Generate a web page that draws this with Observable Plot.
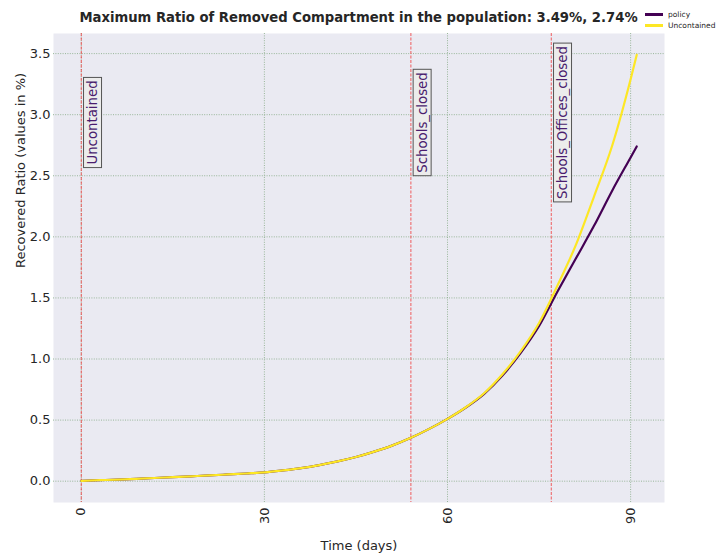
<!DOCTYPE html>
<html>
<head>
<meta charset="utf-8">
<script src="https://cdn.jsdelivr.net/npm/d3@7"></script>
<script src="https://cdn.jsdelivr.net/npm/@observablehq/plot@0.6"></script>
<style>
  body { margin: 0; background: #fff; font-family: "DejaVu Sans", sans-serif; }
  #wrap { position: relative; width: 716px; height: 555px; overflow: hidden; }
  #title { position: absolute; left: 53px; width: 611px; top: 10px; text-align: center;
           font-size: 13.2px; font-weight: bold; color: #262626; line-height: 16px; white-space: nowrap; }
  #legend { position: absolute; left: 645px; top: 9px; font-size: 7.5px; color: #262626; }
  .lg { display: flex; align-items: center; height: 11px; white-space: nowrap; }
  .sw { width: 18px; height: 2.2px; margin-right: 5px; }
  #chart { position: absolute; left: 0; top: 30px; }
</style>
</head>
<body>
<div id="wrap">
  <div id="title"></div>
  <div id="legend"></div>
  <div id="chart"></div>
</div>
<script>
const titleText = "Maximum Ratio of Removed Compartment in the population: 3.49%, 2.74%";
const seriesNames = ["policy", "Uncontained"];
const seriesColors = ["#440154", "#fde725"];
const days = [0,3,6,9,12,15,18,21,24,27,30,33,36,39,42,45,48,51,54,57,60,63,66,69,72,75,78,81,84,87,90,91];
const uncontained = [0.003,0.008,0.013,0.019,0.026,0.033,0.040,0.047,0.055,0.063,0.072,0.088,0.107,0.132,0.162,0.198,0.242,0.293,0.355,0.428,0.51,0.605,0.72,0.875,1.065,1.295,1.60,1.93,2.33,2.75,3.29,3.49];
const policy = [0.003,0.008,0.013,0.019,0.026,0.033,0.040,0.047,0.055,0.063,0.072,0.088,0.107,0.132,0.162,0.198,0.242,0.293,0.355,0.428,0.51,0.603,0.715,0.865,1.05,1.27,1.55,1.82,2.09,2.38,2.65,2.74];
const eventDays = [0, 54, 77];
const eventNames = ["Uncontained", "Schools_closed", "Schools_Offices_closed"];
const xTicks = [0, 30, 60, 90];
const yTicks = [0, 0.5, 1, 1.5, 2, 2.5, 3, 3.5];
const xLabel = "Time (days)";
const yLabel = "Recovered Ratio (values in %)";

document.getElementById("title").textContent = titleText;
const legend = document.getElementById("legend");
seriesNames.forEach((n, i) => {
  const row = document.createElement("div");
  row.className = "lg";
  row.innerHTML = `<div class="sw" style="background:${seriesColors[i]}"></div><span>${n}</span>`;
  legend.append(row);
});

const rows = [];
days.forEach((d, i) => rows.push({day: d, value: policy[i], series: "policy"}));
days.forEach((d, i) => rows.push({day: d, value: uncontained[i], series: "Uncontained"}));
const events = eventDays.map((d, i) => ({day: d, name: eventNames[i]}));

const gridColor = "#8fb08f";
const svg = Plot.plot({
  width: 716, height: 525,
  marginTop: 3, marginBottom: 53, marginLeft: 53, marginRight: 52,
  style: {fontFamily: "DejaVu Sans", background: "transparent", color: "#262626"},
  x: {domain: [-4.55, 95.55]},
  y: {domain: [-0.1745, 3.6645]},
  color: {domain: seriesNames, range: seriesColors},
  marks: [
    Plot.frame({fill: "#eaeaf2", stroke: null}),
    Plot.ruleX(xTicks, {stroke: gridColor, strokeWidth: 0.9, strokeDasharray: "1,1.4"}),
    Plot.ruleY(yTicks, {stroke: gridColor, strokeWidth: 0.9, strokeDasharray: "1,1.4"}),
    Plot.ruleX(events, {x: "day", stroke: "#f03a3a", strokeOpacity: 0.9, strokeWidth: 0.9, strokeDasharray: "3,1.5"}),
    Plot.line(rows, {x: "day", y: "value", z: "series", stroke: "series", strokeWidth: 2.2, curve: "monotone-x"}),
    Plot.text(events, {x: "day", frameAnchor: "top", dy: 89, dx: 11.5, text: "name", rotate: -90,
      textAnchor: "middle", lineAnchor: "middle", fontSize: 13.3, fill: "#4a1d6e"}),
    Plot.axisX({ticks: xTicks, tickSize: 0, tickPadding: 5, tickRotate: -90, fontSize: 13, label: null}),
    Plot.axisY({ticks: yTicks, tickFormat: d3.format(".1f"), tickSize: 0, tickPadding: 3, fontSize: 13, label: null}),
    Plot.text([xLabel], {frameAnchor: "bottom", dy: 43, text: d => d, fontSize: 13, lineAnchor: "middle"}),
    Plot.text([yLabel], {frameAnchor: "left", dx: -33, text: d => d, rotate: -90, fontSize: 13, lineAnchor: "middle"})
  ]
});
document.getElementById("chart").append(svg);

// draw boxes behind event labels, sized from the rendered text
const NS = "http://www.w3.org/2000/svg";
Array.from(svg.querySelectorAll("text"))
  .filter(t => eventNames.includes(t.textContent))
  .forEach(t => {
    const b = t.getBBox();
    const r = document.createElementNS(NS, "rect");
    const px = 3, py = 1.5;
    r.setAttribute("x", b.x - px);
    r.setAttribute("y", b.y - py);
    r.setAttribute("width", b.width + 2 * px);
    r.setAttribute("height", b.height + 2 * py);
    r.setAttribute("fill", "#ececec");
    r.setAttribute("stroke", "#555");
    r.setAttribute("stroke-width", 1);
    const tr = t.getAttribute("transform");
    if (tr) r.setAttribute("transform", tr);
    t.parentNode.insertBefore(r, t);
  });
</script>
</body>
</html>
